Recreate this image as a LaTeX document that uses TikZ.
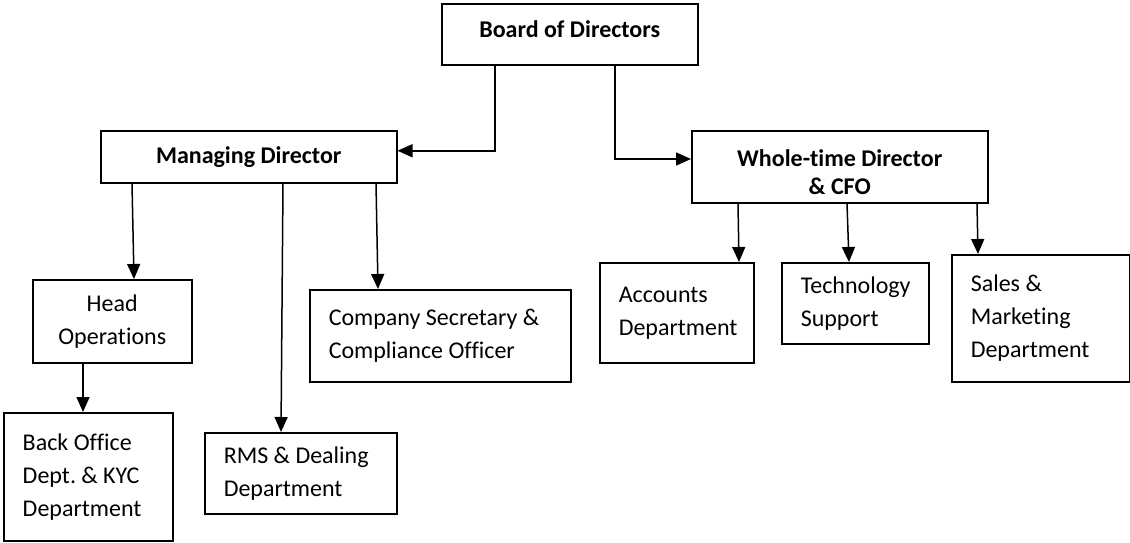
\documentclass[tikz,border=0pt]{standalone}
\usepackage{fontspec}
\setmainfont{Carlito}[Ligatures={NoCommon}]
\frenchspacing
\usetikzlibrary{arrows.meta}
\tikzset{
  unit/.style={draw, line width=1.5pt, inner sep=0pt, anchor=north west,
    font=\fontsize{24}{33}\selectfont},
  head/.style={unit, align=center, font=\fontsize{24}{28}\selectfont\bfseries},
  dept/.style={unit, align=flush left, inner xsep=19pt},
  link/.style={line width=1.5pt, -{Triangle[length=15pt,width=13pt]}}
}
\begin{document}
\begin{tikzpicture}[x=1pt,y=-1pt]
    \useasboundingbox (0,0) rectangle (1130,542);
    \node[head, minimum width=256pt, minimum height=61pt, text depth=11pt] (bod) at (441,3) {Board of Directors};
    \node[head, minimum width=296pt, minimum height=52pt] (md) at (100,130) {Managing Director};
    \node[head, minimum width=296pt, minimum height=72pt, text height=56pt] (wtd) at (691,130) {Whole-time Director\\ \& CFO};
    \node[unit, align=center, minimum width=159pt, minimum height=83pt] (ho) at (32,279) {Head\\Operations};
    \node[dept, text width=131pt, minimum height=128pt] (bo) at (3,412) {Back Office\\Dept. \& KYC\\Department};
    \node[dept, text width=154pt, minimum height=81pt] (rms) at (204,432) {RMS \& Dealing\\Department};
    \node[dept, text width=223pt, minimum height=92pt] (cs) at (309,289) {Company Secretary \&\\Compliance Officer};
    \node[dept, text width=116pt, minimum height=100pt] (acc) at (599,262) {Accounts\\Department};
    \node[dept, text width=109pt, minimum height=81pt] (tech) at (781,262) {Technology\\Support};
    \node[dept, text width=140pt, minimum height=127pt] (sales) at (951,254) {Sales \&\\Marketing\\Department};
    \draw[link] ([xshift=54pt]bod.south west) |- ([yshift=6pt]md.east);
    \draw[link] ([xshift=174pt]bod.south west) |- ([yshift=-29pt]wtd.north west);
    \draw[link] ([xshift=32pt]md.south west) -- ([xshift=102pt]ho.north west);
    \draw[link] ([xshift=183pt]md.south west) -- ([xshift=77pt]rms.north west);
    \draw[link] ([xshift=276pt]md.south west) -- ([xshift=69pt]cs.north west);
    \draw[link] ([xshift=51pt]ho.south west) -- ([xshift=80pt]bo.north west);
    \draw[link] ([xshift=47pt]wtd.south west) -- ([xshift=140pt]acc.north west);
    \draw[link] ([xshift=156pt]wtd.south west) -- ([xshift=68pt]tech.north west);
    \draw[link] ([xshift=286pt]wtd.south west) -- ([xshift=27pt]sales.north west);
\end{tikzpicture}
\end{document}
